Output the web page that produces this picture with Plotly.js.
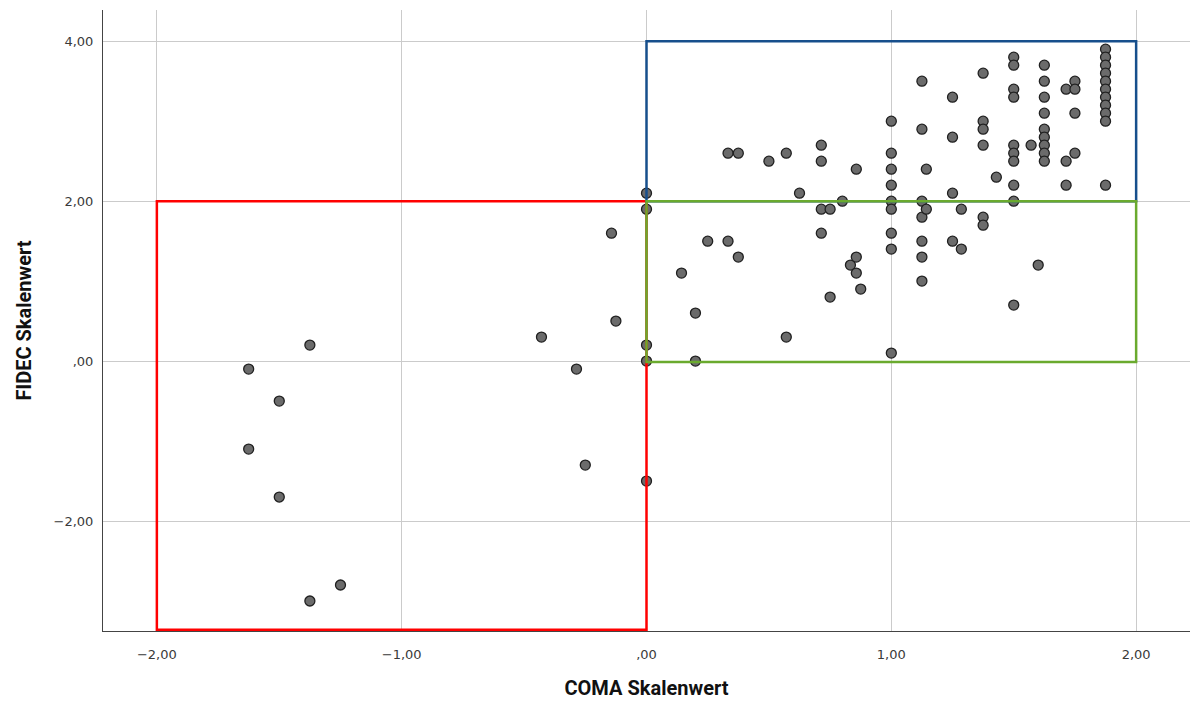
<!DOCTYPE html>
<html>
<head>
<meta charset="utf-8">
<script src="https://cdn.plot.ly/plotly-3.0.1.min.js"></script>
<style>html,body{margin:0;padding:0;background:#fff;}#chart{width:1193px;height:702px;}</style>
</head>
<body>
<div id="chart"></div>
<script>
// COMA scale value (x) and FIDEC scale value (y) per respondent
const coma = [
  -1.625, -1.625, -1.5, -1.5, -1.375, -1.375, -1.25, -0.429, -0.286, -0.25, -0.143, -0.125,
  0, 0, 0, 0, 0,
  0.143, 0.2, 0.2, 0.25, 0.333, 0.333, 0.375, 0.375, 0.5, 0.571, 0.571, 0.625,
  0.714, 0.714, 0.714, 0.714, 0.75, 0.75, 0.8, 0.833, 0.857, 0.857, 0.857, 0.875,
  1, 1, 1, 1, 1, 1, 1, 1, 1,
  1.125, 1.125, 1.125, 1.125, 1.125, 1.125, 1.125,
  1.143, 1.143,
  1.25, 1.25, 1.25, 1.25,
  1.286, 1.286,
  1.375, 1.375, 1.375, 1.375, 1.375, 1.375,
  1.429,
  1.5, 1.5, 1.5, 1.5, 1.5, 1.5, 1.5, 1.5, 1.5, 1.5,
  1.571, 1.6,
  1.625, 1.625, 1.625, 1.625, 1.625, 1.625, 1.625, 1.625, 1.625,
  1.714, 1.714, 1.714,
  1.75, 1.75, 1.75, 1.75,
  1.875, 1.875, 1.875, 1.875, 1.875, 1.875, 1.875, 1.875, 1.875, 1.875, 1.875
];
const fidec = [
  -0.1, -1.1, -0.5, -1.7, 0.2, -3.0, -2.8, 0.3, -0.1, -1.3, 1.6, 0.5,
  2.1, 1.9, 0.2, 0.0, -1.5,
  1.1, 0.6, 0.0, 1.5, 2.6, 1.5, 2.6, 1.3, 2.5, 2.6, 0.3, 2.1,
  2.7, 2.5, 1.9, 1.6, 1.9, 0.8, 2.0, 1.2, 2.4, 1.3, 1.1, 0.9,
  3.0, 2.6, 2.4, 2.2, 2.0, 1.9, 1.6, 1.4, 0.1,
  3.5, 2.9, 2.0, 1.8, 1.5, 1.3, 1.0,
  2.4, 1.9,
  3.3, 2.8, 2.1, 1.5,
  1.9, 1.4,
  3.6, 3.0, 2.9, 2.7, 1.8, 1.7,
  2.3,
  3.8, 3.7, 3.4, 3.3, 2.7, 2.6, 2.5, 2.2, 2.0, 0.7,
  2.7, 1.2,
  3.7, 3.5, 3.3, 3.1, 2.9, 2.8, 2.7, 2.6, 2.5,
  3.4, 2.5, 2.2,
  3.5, 3.4, 3.1, 2.6,
  3.9, 3.8, 3.7, 3.6, 3.5, 3.4, 3.3, 3.2, 3.1, 3.0, 2.2
];

// axis ticks
const xTickVals = [-2, -1, 0, 1, 2];
const xTickText = ["\u22122,00", "\u22121,00", ",00", "1,00", "2,00"];
const yTickVals = [-2, 0, 2, 4];
const yTickText = ["\u22122,00", ",00", "2,00", "4,00"];

// highlighted regions [x0, x1, y0, y1]
const redBox = [-2, 0, -3.36, 2];
const blueBox = [0, 2, 2, 4];
const greenBox = [0, 2, -0.01, 2];

function box(b, color) {
  return {type: 'rect', xref: 'x', yref: 'y', x0: b[0], x1: b[1], y0: b[2], y1: b[3],
          line: {color: color, width: 2.5}, fillcolor: 'rgba(0,0,0,0)', layer: 'above'};
}

const trace = {
  x: coma, y: fidec, type: 'scatter', mode: 'markers',
  marker: {size: 10, color: '#6b6b6b', line: {color: '#202020', width: 1.3}},
  hoverinfo: 'x+y'
};

const tickFont = {family: 'DejaVu Sans, sans-serif', size: 13, color: '#3a3a3a'};
const titleFont = {family: 'Liberation Sans Narrow, Roboto, sans-serif', size: 20, color: '#111', weight: 'bold'};

const layout = {
  width: 1193, height: 702,
  margin: {l: 103, r: 3, t: 10, b: 71},
  paper_bgcolor: '#fff', plot_bgcolor: '#fff',
  showlegend: false,
  xaxis: {
    range: [-2.22, 2.22], tickvals: xTickVals, ticktext: xTickText,
    showgrid: true, gridcolor: '#cbcbcb', gridwidth: 1, zeroline: false,
    showline: true, linecolor: '#444', linewidth: 1,
    ticks: 'outside', ticklen: 11, tickcolor: 'rgba(0,0,0,0)',
    tickfont: tickFont,
    title: {text: '<b>COMA Skalenwert</b>', font: titleFont, standoff: 20}
  },
  yaxis: {
    range: [-3.375, 4.39], tickvals: yTickVals, ticktext: yTickText,
    showgrid: true, gridcolor: '#cbcbcb', gridwidth: 1, zeroline: false,
    showline: true, linecolor: '#444', linewidth: 1,
    ticks: 'outside', ticklen: 6, tickcolor: 'rgba(0,0,0,0)',
    tickfont: tickFont,
    title: {text: '<b>FIDEC Skalenwert</b>', font: titleFont, standoff: 16}
  },
  shapes: [box(redBox, '#ff0000'), box(blueBox, '#174f8c'), box(greenBox, '#6aaa2e')]
};

Plotly.newPlot('chart', [trace], layout, {displayModeBar: false, staticPlot: true});
</script>
</body>
</html>
